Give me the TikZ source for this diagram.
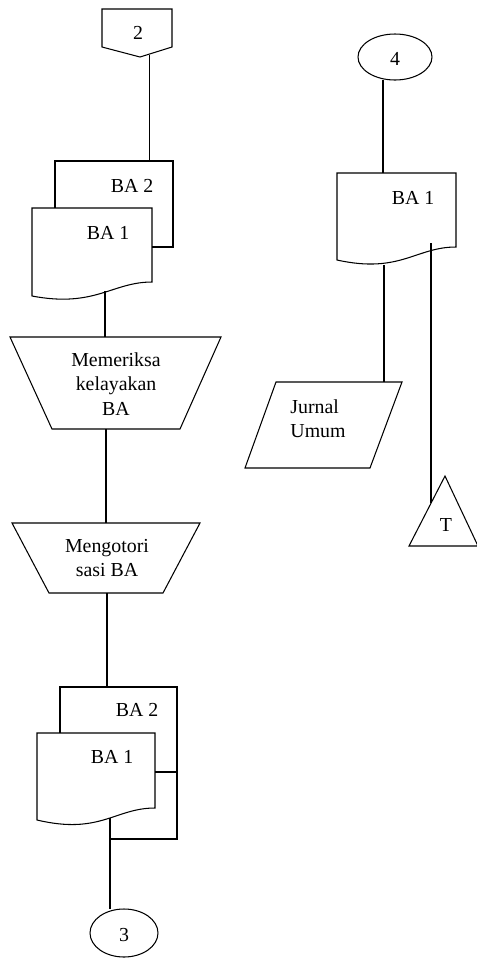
\documentclass[tikz,border=0pt]{standalone}
\usepackage{fontspec}
\setmainfont{Liberation Serif}
\begin{document}
\begin{tikzpicture}[x=0.02cm,y=-0.02cm,line width=0.6pt,
    font=\fontsize{11.3}{13.8}\selectfont]
\useasboundingbox (0,0) rectangle (477,958);
% kolom kiri
\coordinate (K2) at (149,55);
\coordinate (BA2a) at (149,161);
\draw (102,9) -- (172,9) -- (172,47) -- (140,57) -- (102,47) -- cycle;
\node (dua) at (138,33) {2};
\draw[line width=0.4pt] (K2) -- (BA2a);
\draw (55,208) -- (55,161) -- (173,161) -- (173,247) -- (152,247);
\draw (32,208) -- (152,208) -- (152,282) .. controls (112,282) and (95,308) .. (32,296) -- cycle;
\node (ba2a) at (132,186) {BA 2};
\node (ba1a) at (108,233) {BA 1};
\coordinate (BA1a) at (105,291);
\coordinate (P1) at (105,337);
\draw (BA1a) -- (P1);
\draw (10,337) -- (221,337) -- (180,429) -- (52,429) -- cycle;
\node[align=center] (periksa) at (116,384) {Memeriksa\\kelayakan\\BA};
\coordinate (P1b) at (106,429);
\coordinate (P2) at (106,523);
\draw (P1b) -- (P2);
\draw (12,523) -- (200,523) -- (163,593) -- (49,593) -- cycle;
\node[align=center] (otorisasi) at (107,558) {Mengotori\\sasi BA};
\coordinate (P2b) at (107,593);
\coordinate (BA2b) at (107,687);
\draw (P2b) -- (BA2b);
\draw (60,733) -- (60,687) -- (177,687) -- (177,839) -- (110,839);
\draw (155,772) -- (177,772);
\draw (37,733) -- (155,733) -- (155,808) .. controls (115,808) and (100,835) .. (37,820) -- cycle;
\node (ba2b) at (137,710) {BA 2};
\node (ba1b) at (112,757) {BA 1};
\coordinate (BA1b) at (110,818);
\coordinate (K3) at (110,909);
\draw (BA1b) -- (K3);
\draw (124,933) ellipse (34 and 24);
\node (tiga) at (124,935) {3};
% kolom kanan
\draw (395,57) ellipse (37 and 23);
\node (empat) at (395,59) {4};
\coordinate (K4) at (383,80);
\coordinate (BA1c) at (383,173);
\draw (K4) -- (BA1c);
\draw (337,173) -- (456,173) -- (456,247) .. controls (416,247) and (400,274) .. (337,260) -- cycle;
\node (ba1c) at (413,198) {BA 1};
\coordinate (D1) at (384,265);
\coordinate (J) at (384,382);
\draw (D1) -- (J);
\draw (276,382) -- (402,382) -- (370,468) -- (245,468) -- cycle;
\node[align=left] (jurnal) at (318,419) {Jurnal\\Umum};
\coordinate (D2) at (431,243);
\coordinate (T) at (431,503);
\draw (D2) -- (T);
\draw (445,476) -- (478,546) -- (409,546) -- cycle;
\node (arsip) at (446,525) {T};
\end{tikzpicture}
\end{document}
